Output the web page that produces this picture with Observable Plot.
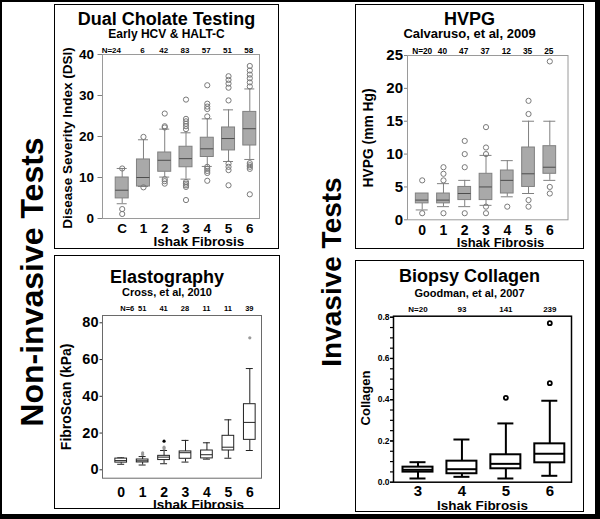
<!DOCTYPE html>
<html><head><meta charset="utf-8">
<script src="https://cdn.jsdelivr.net/npm/d3@7"></script>
<script src="https://cdn.jsdelivr.net/npm/@observablehq/plot@0.6"></script>
<style>
body{margin:0;background:#fff;font-family:"Liberation Sans",Arial,sans-serif;}
#fig{position:relative;width:600px;height:519px;overflow:hidden;background:#fff}
.outer{position:absolute;left:0;top:0;width:600px;height:519px;box-sizing:border-box;border-style:solid;border-color:#000;border-width:2px 5px 5px 2px;pointer-events:none}
.panel{position:absolute;}
.panel svg{position:absolute;left:0;top:0}
.pborder{position:absolute;left:0;top:0;right:0;bottom:0;border:1px solid #000;box-sizing:border-box;pointer-events:none}
.ttl{position:absolute;left:0;right:0;text-align:center;font-weight:bold;white-space:nowrap;line-height:1;color:#000}
.side{position:absolute;font-weight:bold;line-height:1;white-space:nowrap;transform:translate(-50%,-50%) rotate(-90deg);color:#000}
</style></head>
<body><div id="fig"></div>
<script>
// ---------- Panel A: Dual Cholate Testing ----------
const dsiCats = ["C","1","2","3","4","5","6"];
const dsiN = ["N=24","6","42","83","57","51","58"];
const dsiQ1 = [4.9,7.8,11.4,12.5,15.0,16.6,17.8];
const dsiMed = [6.9,10.0,14.2,14.6,17.0,19.5,21.9];
const dsiQ3 = [10.0,14.4,16.1,17.5,19.7,22.2,26.0];
const dsiLo = [3.6,7.8,10.1,9.6,12.7,13.9,14.4];
const dsiHi = [12.2,19.2,21.8,20.9,24.3,26.5,31.6];
const dsiOut = [[12.2,2.3,1.1],[19.9,7.6],[25.6,22.5,22.2,9.6,9.1,8.5],[29.0,24.3,23.7,23.1,22.5,21.8,8.9,8.5,8.1,7.7,4.5],[32.5,28.0,27.3,26.7,24.9,12.6,12.1,11.6,11.1,9.2],[34.7,33.8,32.9,31.9,28.8,13.4,12.6,11.8,8.1],[37.2,36.1,35.1,34.2,33.2,32.2,13.5,13.0,12.6,12.1,5.9]];
const dsiTicks = [0,10,20,30,40];

// ---------- Panel B: HVPG ----------
const hvpgCats = ["0","1","2","3","4","5","6"];
const hvpgN = ["N=20","40","47","37","12","35","25"];
const hvpgQ1 = [2.5,2.5,3.0,3.0,4.0,5.0,7.0];
const hvpgMed = [3.0,3.0,4.0,5.0,6.0,7.0,8.0];
const hvpgQ3 = [4.0,4.0,5.0,7.0,7.5,11.0,11.2];
const hvpgLo = [1.5,2.0,2.0,2.2,3.5,4.0,6.0];
const hvpgHi = [4.0,5.5,6.0,9.8,9.0,15.0,15.0];
const hvpgOut = [[6.0,1.0],[8.0,7.0,6.0,1.0],[12.0,10.0,8.0,1.0],[14.1,11.0,10.0,2.0,1.0],[2.0],[18.1,16.1,3.0,2.0],[24.1,5.0,4.0]];
const hvpgTicks = [0,5,10,15,20,25];

// ---------- Panel C: Elastography ----------
const elCats = ["0","1","2","3","4","5","6"];
const elN = ["N=6","51","41","28","11","11","39"];
const elQ1 = [3.9,4.0,5.3,6.0,6.2,10.5,16.3];
const elMed = [5.0,4.9,6.9,9.3,8.2,12.3,25.8];
const elQ3 = [6.1,5.6,7.6,10.0,10.5,18.5,35.7];
const elLo = [3.0,2.6,3.3,4.2,5.8,6.3,10.5];
const elHi = [6.5,7.2,10.5,16.0,14.7,27.2,55.1];
const elOut = [[],[8.3,9.2],[11.4,12.3],[],[],[],[71.8]];
const elExtreme = [[],[],[15.6],[],[],[],[]];
const elTicks = [0,20,40,60,80];

// ---------- Panel D: Biopsy Collagen ----------
const colCats = ["3","4","5","6"];
const colN = ["N=20","93","141","239"];
const colQ1 = [0.049,0.041,0.065,0.094];
const colMed = [0.060,0.063,0.089,0.138];
const colQ3 = [0.073,0.102,0.133,0.186];
const colLo = [0.018,0.026,0.018,0.031];
const colHi = [0.097,0.207,0.285,0.395];
const colOut = [[],[],[0.409],[0.480,0.771]];
const colTicks = [0,0.2,0.4,0.6,0.8];
const colMinorTicks = [0,0.05,0.1,0.15,0.2,0.25,0.3,0.35,0.4,0.45,0.5,0.55,0.6,0.65,0.7,0.75,0.8];

const FONT = "'Liberation Sans', Arial, sans-serif";

function boxPanel(c) {
  const rows = c.cats.map((k,i)=>({cat:k, n:c.n[i], q1:c.q1[i], med:c.med[i], q3:c.q3[i], lo:c.lo[i], hi:c.hi[i]}));
  const outs = c.cats.flatMap((k,i)=>c.out[i].map(v=>({cat:k, v})));
  const ext = c.ext ? c.cats.flatMap((k,i)=>c.ext[i].map(v=>({cat:k, v}))) : [];
  const step = (c.c1 - c.c0)/(c.cats.length-1);
  const bi = (step - c.boxW)/2, ci = (step - c.capW)/2;
  const marks = [
    Plot.frame({stroke:c.frame, strokeWidth:c.frameW}),
    Plot.ruleX(rows, {x:"cat", y1:"lo", y2:"q1", stroke:c.line, strokeWidth:c.lw}),
    Plot.ruleX(rows, {x:"cat", y1:"q3", y2:"hi", stroke:c.line, strokeWidth:c.lw}),
    Plot.tickY(rows, {x:"cat", y:"lo", insetLeft:ci, insetRight:ci, stroke:c.line, strokeWidth:c.lw}),
    Plot.tickY(rows, {x:"cat", y:"hi", insetLeft:ci, insetRight:ci, stroke:c.line, strokeWidth:c.lw}),
    Plot.barY(rows, {x:"cat", y1:"q1", y2:"q3", fill:c.boxFill, stroke:c.line, strokeWidth:c.lw, insetLeft:bi, insetRight:bi}),
    Plot.tickY(rows, {x:"cat", y:"med", insetLeft:bi, insetRight:bi, stroke:c.medC, strokeWidth:c.lw}),
    Plot.dot(outs, {x:"cat", y:"v", r:c.r, stroke:c.dotStroke, fill:c.dotFill, strokeWidth:c.dotW}),
    Plot.dot(ext, {x:"cat", y:"v", r:1.6, fill:"#000", stroke:null}),
    Plot.text(rows.slice(0,1), {x:"cat", text:"n", frameAnchor:"top", dy:c.nDy, dx:c.n0Dx, textAnchor:c.n0Anchor, lineAnchor:"bottom", fontSize:c.nFs, fontWeight:"bold", fill:"#000"}),
    Plot.text(rows.slice(1), {x:"cat", text:"n", frameAnchor:"top", dy:c.nDy, dx:c.nDx, lineAnchor:"bottom", fontSize:c.nFs, fontWeight:"bold", fill:"#000"}),
    Plot.axisY({ticks:c.ticks, tickFormat:c.fmt, tickSize:c.tS, tickPadding:c.tP, fontSize:c.yFs, fontWeight:"bold", stroke:c.tickC, strokeWidth:c.tickW, fill:"#000", label:null}),
    Plot.axisX({tickSize:0, tickPadding:c.xP, fontSize:c.xFs, fontWeight:"bold", fill:"#000", label:null}),
    Plot.text([c.ylabel], {text:d=>d, frameAnchor:"left", dx:c.ylx - c.mL, dy:c.yly, rotate:-90, textAnchor:"middle", lineAnchor:"middle", fontSize:c.ylFs, fontWeight:"bold", fill:"#000"}),
    Plot.text(["Ishak Fibrosis"], {text:d=>d, frameAnchor:"bottom", dx:c.xlx, dy:c.xly, textAnchor:"middle", lineAnchor:"middle", fontSize:c.xlFs, fontWeight:"bold", fill:"#000"})
  ];
  if (c.minor) marks.push(Plot.axisY({ticks:c.minor, tickFormat:()=>"", tickSize:3, stroke:"#000", strokeWidth:1.2, label:null}));
  return Plot.plot({
    width:c.W, height:c.H,
    marginLeft:c.mL, marginRight:c.mR, marginTop:c.mT, marginBottom:c.mB,
    x:{type:"band", domain:c.cats, range:[c.c0 - step/2, c.c1 + step/2], padding:0, round:false},
    y:{domain:c.yDomain},
    style:{fontFamily:FONT, background:"transparent", overflow:"visible", color:"#000"},
    marks
  });
}

function addPanel(fig, L, T, W, H, plot, title, tTop, sub, sFs, sTop) {
  const p = document.createElement("div");
  p.className = "panel";
  Object.assign(p.style, {left:L+"px", top:T+"px", width:W+"px", height:H+"px"});
  p.appendChild(plot);
  const t = document.createElement("div");
  t.className = "ttl"; t.textContent = title;
  Object.assign(t.style, {top:tTop+"px", fontSize:"18px"});
  p.appendChild(t);
  const s = document.createElement("div");
  s.className = "ttl"; s.textContent = sub;
  Object.assign(s.style, {top:sTop+"px", fontSize:sFs+"px"});
  p.appendChild(s);
  const b = document.createElement("div");
  b.className = "pborder";
  p.appendChild(b);
  fig.appendChild(p);
}

const fig = document.getElementById("fig");
const grayStyle = {frame:"#9a9a9a", frameW:1, line:"#808080", lw:1, boxFill:"#a9a9a9", medC:"#4d4d4d", r:2.6, dotStroke:"#7a7a7a", dotFill:"none", dotW:1, tickC:"#808080", tickW:1};

const pA = boxPanel({...grayStyle, cats:dsiCats, n:dsiN, q1:dsiQ1, med:dsiMed, q3:dsiQ3, lo:dsiLo, hi:dsiHi, out:dsiOut,
  W:225, H:245, mL:48, mR:20, mT:50, mB:31, c0:67.7, c1:195.3, yDomain:[0,40], boxW:13, capW:10,
  ticks:dsiTicks, fmt:d3.format("d"), tS:4.5, tP:4, yFs:13.5, xP:5, xFs:13.5, nFs:8, nDy:-1.5, n0Dx:-1.2, n0Anchor:"end", nDx:-1,
  ylabel:"Disease Severity Index (DSI)", ylx:12.7, yly:1.5, ylFs:13.5, xlx:17.8, xly:23, xlFs:13.5});
addPanel(fig, 54, 4, 225, 245, pA, "Dual Cholate Testing", 5.8, "Early HCV & HALT-C", 12, 24.1);

const pB = boxPanel({...grayStyle, cats:hvpgCats, n:hvpgN, q1:hvpgQ1, med:hvpgMed, q3:hvpgQ3, lo:hvpgLo, hi:hvpgHi, out:hvpgOut,
  W:229, H:245, mL:52, mR:16.5, mT:51, mB:29.7, c0:66.7, c1:194.3, yDomain:[0,25], boxW:12.7, capW:12,
  ticks:hvpgTicks, fmt:d3.format("d"), tS:3, tP:1.5, yFs:15, xP:5.5, xFs:14, nFs:8.3, nDy:-1.7, n0Dx:0, n0Anchor:"middle", nDx:-1,
  ylabel:"HVPG (mm Hg)", ylx:13.3, yly:0.3, ylFs:13.8, xlx:12.75, xly:23.5, xlFs:13});
addPanel(fig, 355, 4, 229, 245, pB, "HVPG", 5.8, "Calvaruso, et al, 2009", 13, 23);

const pC = boxPanel({frame:"#6a6a6a", frameW:1, line:"#222", lw:1, boxFill:"#fff", medC:"#222", r:1.6, dotStroke:null, dotFill:"#9a9a9a", dotW:0, tickC:"#333", tickW:1,
  cats:elCats, n:elN, q1:elQ1, med:elMed, q3:elQ3, lo:elLo, hi:elHi, out:elOut, ext:elExtreme,
  W:226, H:254, mL:48, mR:19, mT:60, mB:31.3, c0:66.7, c1:195.3, yDomain:[-4.57,83.97], boxW:11.7, capW:7,
  ticks:elTicks, fmt:d3.format("d"), tS:2.5, tP:1.5, yFs:14.5, xP:9, xFs:14, nFs:7.5, nDy:-5, n0Dx:6, n0Anchor:"middle", nDx:-0.5,
  ylabel:"FibroScan (kPa)", ylx:12, yly:0, ylFs:14, xlx:16.5, xly:26.5, xlFs:13.5});
addPanel(fig, 54, 255, 226, 254, pC, "Elastography", 13.1, "Cross, et al, 2010", 11, 32.2);

const pD = boxPanel({frame:"#000", frameW:1.5, line:"#000", lw:2, boxFill:"#fff", medC:"#000", r:2, dotStroke:"#000", dotFill:"none", dotW:1.8, tickC:"#000", tickW:1.2,
  cats:colCats, n:colN, q1:colQ1, med:colMed, q3:colQ3, lo:colLo, hi:colHi, out:colOut, minor:colMinorTicks,
  W:229, H:252, mL:38, mR:13, mT:55.7, mB:30.3, c0:62.5, c1:194.3, yDomain:[0,0.805], boxW:30, capW:16,
  ticks:colTicks, fmt:d3.format(".1f"), tS:3, tP:1, yFs:8.5, xP:3, xFs:15, nFs:8, nDy:-4, n0Dx:0, n0Anchor:"middle", nDx:0,
  ylabel:"Collagen", ylx:10, yly:-1.2, ylFs:13, xlx:0, xly:23.5, xlFs:13.5});
addPanel(fig, 355, 260, 229, 252, pD, "Biopsy Collagen", 7.1, "Goodman, et al, 2007", 11, 27.7);

// side labels
const s1 = document.createElement("div");
s1.className = "side"; s1.textContent = "Non-invasive Tests";
Object.assign(s1.style, {left:"32px", top:"282px", fontSize:"32px"});
fig.appendChild(s1);
const s2 = document.createElement("div");
s2.className = "side"; s2.textContent = "Invasive Tests";
Object.assign(s2.style, {left:"332px", top:"272px", fontSize:"28px"});
fig.appendChild(s2);

const o = document.createElement("div");
o.className = "outer";
fig.appendChild(o);
</script></body></html>
